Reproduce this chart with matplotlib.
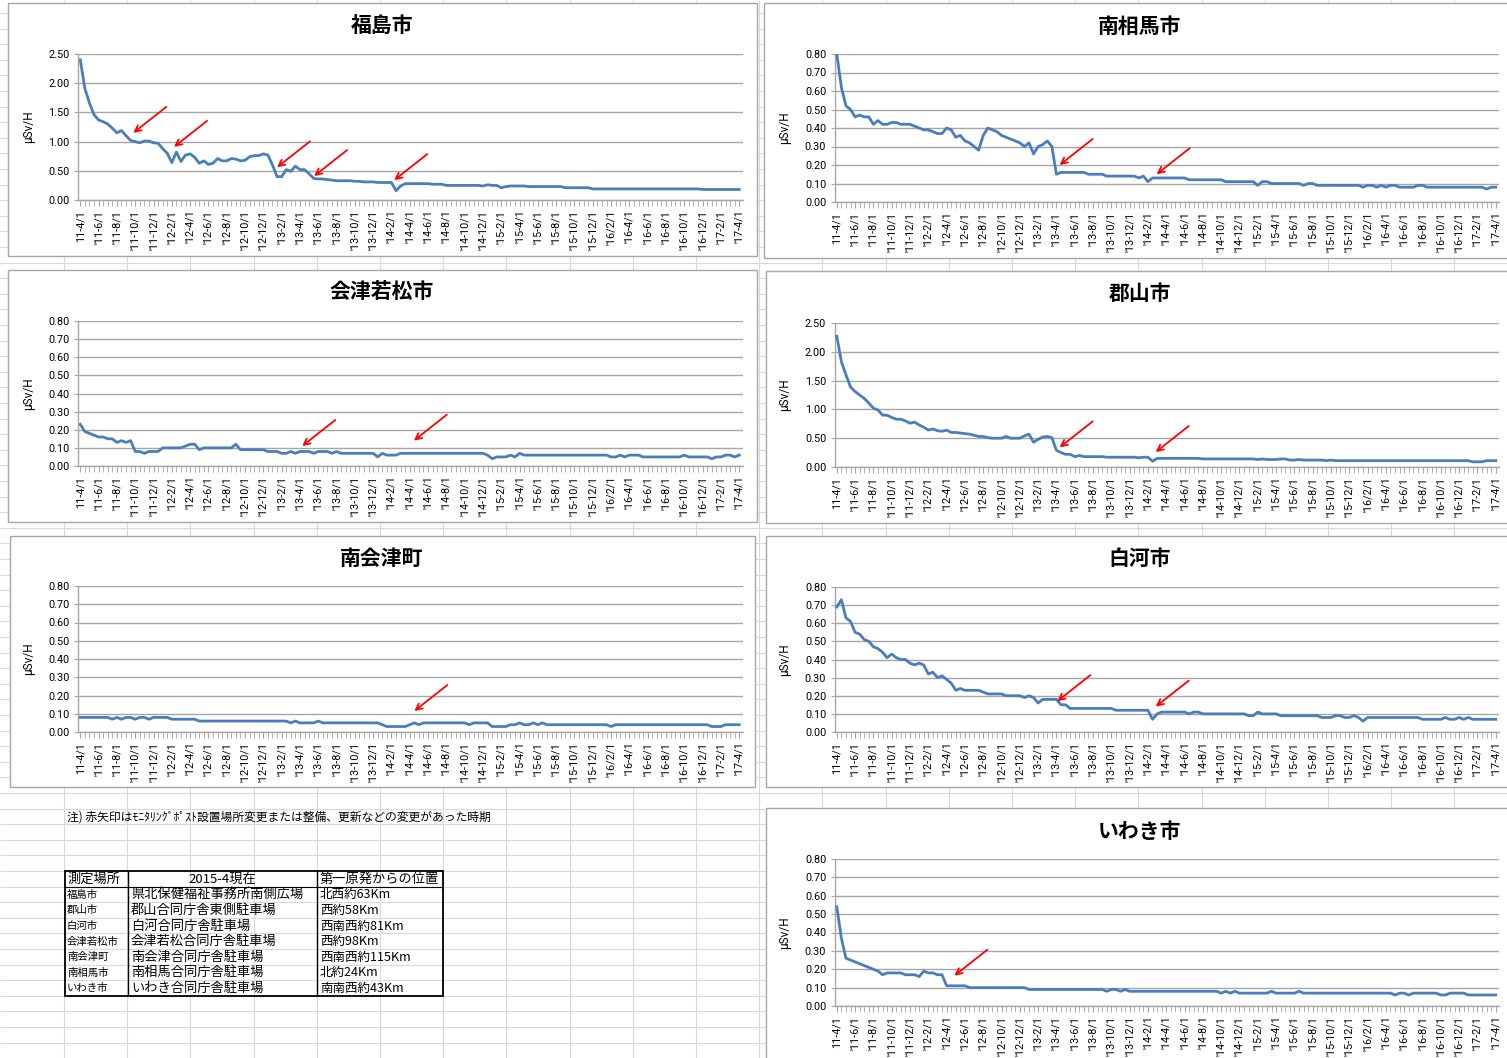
import matplotlib
matplotlib.use("Agg")
import matplotlib.pyplot as plt
from matplotlib.patches import Rectangle
import numpy as np

# category axis: half-month steps from '11-4/1 to '17-4/1, labels every 4th
x_labels = ["11-4/1", "'11-6/1", "'11-8/1", "'11-10/1", "'11-12/1",
            "'12-2/1", "'12-4/1", "'12-6/1", "'12-8/1", "'12-10/1", "'12-12/1",
            "'13-2/1", "'13-4/1", "'13-6/1", "'13-8/1", "'13-10/1", "'13-12/1",
            "'14-2/1", "'14-4/1", "'14-6/1", "'14-8/1", "'14-10/1", "'14-12/1",
            "'15-2/1", "'15-4/1", "'15-6/1", "'15-8/1", "'15-10/1", "'15-12/1",
            "'16/2/1", "'16-4/1", "'16-6/1", "'16-8/1", "'16-10/1", "'16-12/1",
            "'17-2/1", "'17-4/1"]

fukushima = [2.40, 1.91, 1.66, 1.46, 1.37, 1.34, 1.30, 1.23, 1.15, 1.19, 1.10, 1.02,
             1.00, 0.98, 1.01, 1.01, 0.98, 0.97, 0.88, 0.80, 0.64, 0.82, 0.66, 0.77,
             0.79, 0.73, 0.63, 0.67, 0.61, 0.63, 0.71, 0.67, 0.67, 0.71, 0.70, 0.67,
             0.68, 0.74, 0.76, 0.76, 0.79, 0.77, 0.60, 0.40, 0.40, 0.52, 0.49, 0.58,
             0.52, 0.52, 0.45, 0.37, 0.36, 0.36, 0.35, 0.34, 0.33, 0.33, 0.33, 0.33,
             0.32, 0.32, 0.31, 0.31, 0.31, 0.30, 0.30, 0.30, 0.30, 0.16, 0.24, 0.28,
             0.28, 0.28, 0.28, 0.28, 0.28, 0.27, 0.27, 0.27, 0.25, 0.25, 0.25, 0.25,
             0.25, 0.25, 0.25, 0.25, 0.24, 0.26, 0.25, 0.25, 0.21, 0.23, 0.24, 0.24,
             0.24, 0.24, 0.23, 0.23, 0.23, 0.23, 0.23, 0.23, 0.23, 0.23, 0.21, 0.21,
             0.21, 0.21, 0.21, 0.21, 0.19, 0.19, 0.19, 0.19, 0.19, 0.19, 0.19, 0.19,
             0.19, 0.19, 0.19, 0.19, 0.19, 0.19, 0.19, 0.19, 0.19, 0.19, 0.19, 0.19,
             0.19, 0.19, 0.19, 0.19, 0.18, 0.18, 0.18, 0.18, 0.18, 0.18, 0.18, 0.18,
             0.18]

minamisoma = [0.80, 0.62, 0.52, 0.50, 0.46, 0.47, 0.46, 0.46, 0.42, 0.44, 0.42, 0.42,
              0.43, 0.43, 0.42, 0.42, 0.42, 0.41, 0.40, 0.39, 0.39, 0.38, 0.37, 0.37,
              0.40, 0.39, 0.35, 0.36, 0.33, 0.32, 0.30, 0.28, 0.36, 0.40, 0.39, 0.38,
              0.36, 0.35, 0.34, 0.33, 0.32, 0.30, 0.32, 0.26, 0.30, 0.31, 0.33, 0.30,
              0.15, 0.16, 0.16, 0.16, 0.16, 0.16, 0.16, 0.15, 0.15, 0.15, 0.15, 0.14,
              0.14, 0.14, 0.14, 0.14, 0.14, 0.14, 0.13, 0.14, 0.11, 0.13, 0.13, 0.13,
              0.13, 0.13, 0.13, 0.13, 0.13, 0.12, 0.12, 0.12, 0.12, 0.12, 0.12, 0.12,
              0.12, 0.11, 0.11, 0.11, 0.11, 0.11, 0.11, 0.11, 0.09, 0.11, 0.11, 0.10,
              0.10, 0.10, 0.10, 0.10, 0.10, 0.10, 0.09, 0.10, 0.10, 0.09, 0.09, 0.09,
              0.09, 0.09, 0.09, 0.09, 0.09, 0.09, 0.09, 0.08, 0.09, 0.09, 0.08, 0.09,
              0.08, 0.09, 0.09, 0.08, 0.08, 0.08, 0.08, 0.09, 0.09, 0.08, 0.08, 0.08,
              0.08, 0.08, 0.08, 0.08, 0.08, 0.08, 0.08, 0.08, 0.08, 0.08, 0.07, 0.08,
              0.08]

aizuwakamatsu = [0.23, 0.19, 0.18, 0.17, 0.16, 0.16, 0.15, 0.15, 0.13, 0.14, 0.13, 0.14,
                 0.08, 0.08, 0.07, 0.08, 0.08, 0.08, 0.10, 0.10, 0.10, 0.10, 0.10, 0.11,
                 0.12, 0.12, 0.09, 0.10, 0.10, 0.10, 0.10, 0.10, 0.10, 0.10, 0.12, 0.09,
                 0.09, 0.09, 0.09, 0.09, 0.09, 0.08, 0.08, 0.08, 0.07, 0.07, 0.08, 0.07,
                 0.08, 0.08, 0.08, 0.07, 0.08, 0.08, 0.08, 0.07, 0.08, 0.07, 0.07, 0.07,
                 0.07, 0.07, 0.07, 0.07, 0.07, 0.05, 0.07, 0.06, 0.06, 0.06, 0.07, 0.07,
                 0.07, 0.07, 0.07, 0.07, 0.07, 0.07, 0.07, 0.07, 0.07, 0.07, 0.07, 0.07,
                 0.07, 0.07, 0.07, 0.07, 0.07, 0.06, 0.04, 0.05, 0.05, 0.05, 0.06, 0.05,
                 0.07, 0.06, 0.06, 0.06, 0.06, 0.06, 0.06, 0.06, 0.06, 0.06, 0.06, 0.06,
                 0.06, 0.06, 0.06, 0.06, 0.06, 0.06, 0.06, 0.06, 0.05, 0.05, 0.06, 0.05,
                 0.06, 0.06, 0.06, 0.05, 0.05, 0.05, 0.05, 0.05, 0.05, 0.05, 0.05, 0.05,
                 0.06, 0.05, 0.05, 0.05, 0.05, 0.05, 0.04, 0.05, 0.05, 0.06, 0.06, 0.05,
                 0.06]

koriyama = [2.27, 1.83, 1.60, 1.39, 1.31, 1.25, 1.19, 1.11, 1.02, 0.99, 0.90, 0.90,
            0.86, 0.83, 0.83, 0.80, 0.76, 0.78, 0.73, 0.69, 0.64, 0.66, 0.63, 0.62,
            0.64, 0.60, 0.60, 0.59, 0.58, 0.57, 0.55, 0.53, 0.53, 0.51, 0.50, 0.50,
            0.50, 0.53, 0.50, 0.50, 0.50, 0.54, 0.57, 0.43, 0.48, 0.52, 0.53, 0.51,
            0.29, 0.25, 0.22, 0.22, 0.18, 0.20, 0.18, 0.18, 0.18, 0.18, 0.18, 0.17,
            0.17, 0.17, 0.17, 0.17, 0.17, 0.17, 0.16, 0.17, 0.17, 0.10, 0.15, 0.15,
            0.15, 0.15, 0.15, 0.15, 0.15, 0.15, 0.15, 0.15, 0.14, 0.14, 0.14, 0.14,
            0.14, 0.14, 0.14, 0.14, 0.14, 0.14, 0.14, 0.14, 0.13, 0.14, 0.13, 0.13,
            0.13, 0.14, 0.14, 0.12, 0.12, 0.13, 0.12, 0.12, 0.12, 0.12, 0.12, 0.11,
            0.12, 0.11, 0.11, 0.11, 0.11, 0.11, 0.11, 0.11, 0.11, 0.11, 0.11, 0.11,
            0.11, 0.11, 0.11, 0.11, 0.11, 0.11, 0.11, 0.11, 0.11, 0.11, 0.11, 0.11,
            0.11, 0.11, 0.11, 0.11, 0.11, 0.11, 0.11, 0.09, 0.09, 0.09, 0.11, 0.11,
            0.11]

minamiaizu = [0.08, 0.08, 0.08, 0.08, 0.08, 0.08, 0.08, 0.07, 0.08, 0.07, 0.08, 0.08,
              0.07, 0.08, 0.08, 0.07, 0.08, 0.08, 0.08, 0.08, 0.07, 0.07, 0.07, 0.07,
              0.07, 0.07, 0.06, 0.06, 0.06, 0.06, 0.06, 0.06, 0.06, 0.06, 0.06, 0.06,
              0.06, 0.06, 0.06, 0.06, 0.06, 0.06, 0.06, 0.06, 0.06, 0.06, 0.05, 0.06,
              0.05, 0.05, 0.05, 0.05, 0.06, 0.05, 0.05, 0.05, 0.05, 0.05, 0.05, 0.05,
              0.05, 0.05, 0.05, 0.05, 0.05, 0.05, 0.04, 0.03, 0.03, 0.03, 0.03, 0.03,
              0.04, 0.05, 0.04, 0.05, 0.05, 0.05, 0.05, 0.05, 0.05, 0.05, 0.05, 0.05,
              0.05, 0.04, 0.05, 0.05, 0.05, 0.05, 0.03, 0.03, 0.03, 0.03, 0.04, 0.04,
              0.05, 0.04, 0.04, 0.05, 0.04, 0.05, 0.04, 0.04, 0.04, 0.04, 0.04, 0.04,
              0.04, 0.04, 0.04, 0.04, 0.04, 0.04, 0.04, 0.04, 0.03, 0.04, 0.04, 0.04,
              0.04, 0.04, 0.04, 0.04, 0.04, 0.04, 0.04, 0.04, 0.04, 0.04, 0.04, 0.04,
              0.04, 0.04, 0.04, 0.04, 0.04, 0.04, 0.03, 0.03, 0.03, 0.04, 0.04, 0.04,
              0.04]

shirakawa = [0.69, 0.73, 0.63, 0.61, 0.55, 0.54, 0.51, 0.50, 0.47, 0.46, 0.44, 0.41,
             0.43, 0.41, 0.40, 0.40, 0.38, 0.37, 0.38, 0.37, 0.32, 0.33, 0.30, 0.31,
             0.29, 0.27, 0.23, 0.24, 0.23, 0.23, 0.23, 0.23, 0.22, 0.21, 0.21, 0.21,
             0.21, 0.20, 0.20, 0.20, 0.20, 0.19, 0.20, 0.19, 0.16, 0.18, 0.18, 0.18,
             0.18, 0.15, 0.15, 0.13, 0.13, 0.13, 0.13, 0.13, 0.13, 0.13, 0.13, 0.13,
             0.13, 0.12, 0.12, 0.12, 0.12, 0.12, 0.12, 0.12, 0.12, 0.07, 0.10, 0.11,
             0.11, 0.11, 0.11, 0.11, 0.11, 0.10, 0.11, 0.11, 0.10, 0.10, 0.10, 0.10,
             0.10, 0.10, 0.10, 0.10, 0.10, 0.10, 0.09, 0.09, 0.11, 0.10, 0.10, 0.10,
             0.10, 0.09, 0.09, 0.09, 0.09, 0.09, 0.09, 0.09, 0.09, 0.09, 0.08, 0.08,
             0.08, 0.09, 0.09, 0.08, 0.08, 0.09, 0.08, 0.06, 0.08, 0.08, 0.08, 0.08,
             0.08, 0.08, 0.08, 0.08, 0.08, 0.08, 0.08, 0.08, 0.07, 0.07, 0.07, 0.07,
             0.07, 0.08, 0.07, 0.07, 0.08, 0.07, 0.08, 0.07, 0.07, 0.07, 0.07, 0.07,
             0.07]

iwaki = [0.54, 0.37, 0.26, 0.25, 0.24, 0.23, 0.22, 0.21, 0.20, 0.19, 0.17, 0.18,
         0.18, 0.18, 0.18, 0.17, 0.17, 0.17, 0.16, 0.19, 0.18, 0.18, 0.17, 0.17,
         0.11, 0.11, 0.11, 0.11, 0.11, 0.10, 0.10, 0.10, 0.10, 0.10, 0.10, 0.10,
         0.10, 0.10, 0.10, 0.10, 0.10, 0.10, 0.09, 0.09, 0.09, 0.09, 0.09, 0.09,
         0.09, 0.09, 0.09, 0.09, 0.09, 0.09, 0.09, 0.09, 0.09, 0.09, 0.09, 0.08,
         0.09, 0.09, 0.08, 0.09, 0.08, 0.08, 0.08, 0.08, 0.08, 0.08, 0.08, 0.08,
         0.08, 0.08, 0.08, 0.08, 0.08, 0.08, 0.08, 0.08, 0.08, 0.08, 0.08, 0.08,
         0.07, 0.08, 0.07, 0.08, 0.07, 0.07, 0.07, 0.07, 0.07, 0.07, 0.07, 0.08,
         0.07, 0.07, 0.07, 0.07, 0.07, 0.08, 0.07, 0.07, 0.07, 0.07, 0.07, 0.07,
         0.07, 0.07, 0.07, 0.07, 0.07, 0.07, 0.07, 0.07, 0.07, 0.07, 0.07, 0.07,
         0.07, 0.07, 0.06, 0.07, 0.07, 0.06, 0.07, 0.07, 0.07, 0.07, 0.07, 0.07,
         0.06, 0.06, 0.07, 0.07, 0.07, 0.07, 0.06, 0.06, 0.06, 0.06, 0.06, 0.06,
         0.06]

# red arrows: (category index, value) of each arrow tip
arrows_fukushima = [(11.6, 1.15), (20.5, 0.91), (43.0, 0.56), (51.1, 0.41), (68.6, 0.34)]
arrows_minamisoma = [(48.7, 0.20), (69.9, 0.15)]
arrows_aizu = [(48.5, 0.11), (72.9, 0.14)]
arrows_koriyama = [(48.7, 0.34), (69.7, 0.26)]
arrows_minamiaizu = [(73.0, 0.115)]
arrows_shirakawa = [(48.2, 0.17), (69.7, 0.14)]
arrows_iwaki = [(25.7, 0.165)]

note = "注) 赤矢印はﾓﾆﾀﾘﾝｸﾞﾎﾟｽﾄ設置場所変更または整備、更新などの変更があった時期"
table_header = ["測定場所", "2015-4現在", "第一原発からの位置"]
table_place = ["福島市", "郡山市", "白河市", "会津若松市", "南会津町", "南相馬市", "いわき市"]
table_site = ["県北保健福祉事務所南側広場", "郡山合同庁舎東側駐車場", "白河合同庁舎駐車場",
              "会津若松合同庁舎駐車場", "南会津合同庁舎駐車場", "南相馬合同庁舎駐車場",
              "いわき合同庁舎駐車場"]
table_dist = ["北西約63Km", "西約58Km", "西南西約81Km", "西約98Km", "西南西約115Km",
              "北約24Km", "南南西約43Km"]

W, H = 1507, 1058
JP = ["Noto Sans CJK JP", "DejaVu Sans"]
LAT = ["Roboto", "DejaVu Sans"]


def rect(x0, y0, x1, y1):
    return [x0 / W, 1 - y1 / H, (x1 - x0) / W, (y1 - y0) / H]


fig = plt.figure(figsize=(W / 100, H / 100), dpi=100)

# spreadsheet background
bg = fig.add_axes([0, 0, 1, 1])
bg.set_xlim(0, W)
bg.set_ylim(H, 0)
bg.axis("off")
col_lines = np.arange(64, W, 63.2)
row_lines = np.arange(871 - 15.6 * 56, H, 15.6)
bg.vlines(col_lines, 0, H, color="#d9d9d9", lw=0.8, zorder=0)
bg.hlines(row_lines, 0, W, color="#d9d9d9", lw=0.8, zorder=0)

# (title, data, ymax, arrows, panel box, plot left x, plot top y, plot bottom y, title y)
charts = [
    ("福島市", fukushima, 2.5, arrows_fukushima, (8, 3, 757, 256), 78, 54, 200, 25),
    ("南相馬市", minamisoma, 0.8, arrows_minamisoma, (764, 3, 1512, 258), 834.5, 54, 202, 26),
    ("会津若松市", aizuwakamatsu, 0.8, arrows_aizu, (8, 270, 757, 522), 78, 321, 466, 292),
    ("郡山市", koriyama, 2.5, arrows_koriyama, (766, 271, 1512, 523), 834.5, 323, 467, 293),
    ("南会津町", minamiaizu, 0.8, arrows_minamiaizu, (10, 536, 755, 787), 78, 586, 732, 558),
    ("白河市", shirakawa, 0.8, arrows_shirakawa, (766, 536, 1512, 787), 834.5, 587, 732, 558),
    ("いわき市", iwaki, 0.8, arrows_iwaki, (766, 808, 1512, 1062), 834.5, 859, 1006, 831),
]

step = 4.576  # pixels per category
x = np.arange(145)

for title, vals, ymax, arrows, box, px0, py0, py1, ty in charts:
    assert len(vals) == 145
    bx0, by0, bx1, by1 = box
    bg.add_patch(Rectangle((bx0, by0), bx1 - bx0, by1 - by0, facecolor="white",
                           edgecolor="#a6a6a6", lw=1, zorder=2))
    bg.text(382 if bx0 < 100 else 1140, ty, title, ha="center", va="center",
            fontsize=15, fontweight="bold", family=JP, zorder=3)

    px1 = px0 + 145.3 * step
    ax = fig.add_axes(rect(px0, py0, px1, py1))
    ax.set_zorder(3)
    ax.plot(x, vals, color="#4a7ebb", lw=2.0, solid_joinstyle="round", zorder=3)
    ax.set_xlim(-0.5, 144.8)
    ax.set_ylim(0, ymax)
    yt = np.round(np.arange(0, ymax + 1e-9, 0.5 if ymax > 1 else 0.1), 2)
    ax.set_yticks(yt)
    ax.set_yticklabels([f"{v:.2f}" for v in yt], family=LAT, fontsize=7.8)
    ax.set_xticks(np.arange(0, 145, 4))
    ax.set_xticklabels(x_labels, rotation=90, family=LAT, fontsize=7.8)
    ax.set_xticks(x, minor=True)
    ax.tick_params(axis="x", which="both", length=4, color="#a6a6a6", direction="out", pad=3)
    ax.tick_params(axis="y", length=3, color="#a6a6a6", direction="out", pad=3)
    ax.yaxis.grid(True, color="#a6a6a6", lw=1.0)
    ax.set_axisbelow(True)
    for s in ["top", "right"]:
        ax.spines[s].set_visible(False)
    for s in ["left", "bottom"]:
        ax.spines[s].set_color("#a6a6a6")
        ax.spines[s].set_linewidth(1.0)
    ax.set_ylabel("μSv/H", family=LAT, fontsize=8.5)
    ax.yaxis.set_label_coords(-43 / (px1 - px0), 0.5)

    for ix, iv in arrows:
        ax.annotate("", xy=(ix, iv), xytext=(33, 26), textcoords="offset pixels",
                    arrowprops=dict(arrowstyle="->", color="red", lw=1.3,
                                    shrinkA=0, shrinkB=0, mutation_scale=11),
                    annotation_clip=False, zorder=5)

# note
bg.text(67, 817, note, ha="left", va="center", fontsize=8.5, family=JP, zorder=3)

# table
tx = [65, 128, 317, 443]
ty0, hh, rh = 871, 16, 15.6
tb = ty0 + hh + rh * 7
bg.add_patch(Rectangle((tx[0], ty0), tx[3] - tx[0], tb - ty0, facecolor="none",
                       edgecolor="black", lw=1.3, zorder=3))
bg.vlines(tx[1:3], ty0, tb, color="black", lw=1.0, zorder=3)
bg.hlines(ty0 + hh, tx[0], tx[3], color="black", lw=0.8, zorder=3)
hy = ty0 + hh / 2
bg.text(67, hy, table_header[0], ha="left", va="center", fontsize=9.5, family=JP, zorder=4)
bg.text((tx[1] + tx[2]) / 2, hy, table_header[1], ha="center", va="center",
        fontsize=9.5, family=JP, zorder=4)
bg.text(320, hy, table_header[2], ha="left", va="center", fontsize=9.5, family=JP, zorder=4)
for i in range(7):
    ry = ty0 + hh + rh * i + rh / 2
    bg.text(67, ry, table_place[i], ha="left", va="center", fontsize=7.5, family=JP, zorder=4)
    bg.text(131, ry, table_site[i], ha="left", va="center", fontsize=9.5, family=JP, zorder=4)
    bg.text(320, ry, table_dist[i], ha="left", va="center", fontsize=9, family=JP, zorder=4)

fig.savefig("out.png", dpi=100)
